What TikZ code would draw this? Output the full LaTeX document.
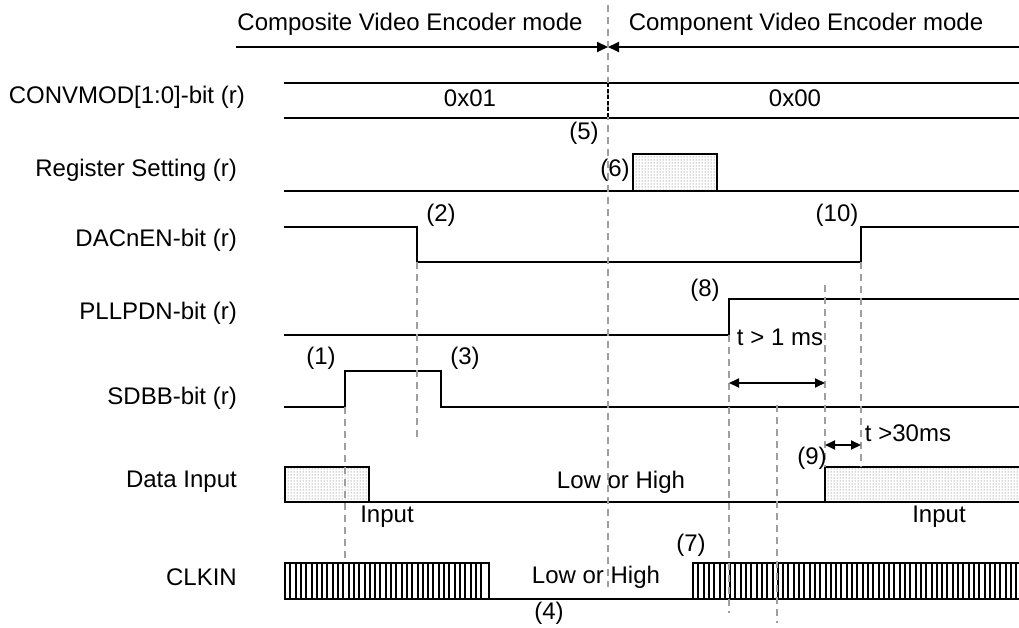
\documentclass[tikz,border=0pt]{standalone}
\usepackage{fontspec}
\setmainfont{Liberation Sans}
\usetikzlibrary{arrows.meta,patterns}
\begin{document}
\begin{tikzpicture}[x=1pt,y=-1pt,
  font=\fontsize{24}{28}\selectfont,
  sig/.style={line width=1.8pt},
  guide/.style={gray!75, line width=2.2pt, dash pattern=on 7pt off 5pt},
  lbl/.style={anchor=east, inner sep=0pt},
  txt/.style={inner sep=0pt},
  box/.style={draw, line width=2pt},
  dotfill/.style={pattern=dots, pattern color=black!65},
  stripe/.style={line width=2pt},
  tip/.style={-{Triangle[length=11pt,width=10pt]}},
  dim/.style={line width=1.8pt, {Triangle[length=10pt,width=9pt]}-{Triangle[length=10pt,width=9pt]}}]
\useasboundingbox (0,0) rectangle (1019,628);
\clip (0,0) rectangle (1019,628);

% mode header
\node[txt] (modeA) at (410,24) {Composite Video Encoder mode};
\node[txt] (modeB) at (806,24) {Component Video Encoder mode};
\coordinate (tl) at (236,47);
\coordinate (tm) at (608,47);
\coordinate (tr) at (1030,47);
\draw[sig,tip] (tl) -- (tm);
\draw[sig,tip] (tr) -- (tm);

% row labels
\node[lbl] (lConv) at (245,97) {CONVMOD[1:0]-bit (r)};
\node[lbl] (lReg) at (237,170) {Register Setting (r)};
\node[lbl] (lDac) at (237,240) {DACnEN-bit (r)};
\node[lbl] (lPll) at (237,313) {PLLPDN-bit (r)};
\node[lbl] (lSdb) at (237,398) {SDBB-bit (r)};
\node[lbl] (lDat) at (237,482) {Data Input};
\node[lbl] (lClk) at (237,577) {CLKIN};

% CONVMOD bus
\draw[sig] (284,83) -- (1030,83);
\draw[sig] (284,118) -- (1030,118);
\node[txt] (v01) at (470,98) {0x01};
\node[txt] (v00) at (795,98) {0x00};

% Register setting
\draw[sig] (284,191) -- (1030,191);
\draw[box,dotfill] (633,154) rectangle (717,191);

% DACnEN
\draw[sig] (284,227) -- (417,227) -- (417,262) -- (861,262) -- (861,227) -- (1030,227);
% PLLPDN
\draw[sig] (284,335) -- (729,335) -- (729,299) -- (1030,299);
% SDBB
\draw[sig] (284,407) -- (345,407) -- (345,371) -- (441,371) -- (441,407) -- (1030,407);

% Data input
\draw[box,dotfill] (285,467) rectangle (369,502);
\draw[sig] (369,502) -- (825,502);
\draw[box,dotfill] (825,467) rectangle (1030,502);

% CLKIN
\foreach \x in {290.3,295.6,...,486} \draw[stripe] (\x,563) -- (\x,599);
\draw[box] (285,563) rectangle (489,599);
\draw[sig] (489,599) -- (693,599);
\foreach \x in {698.3,703.6,...,1025} \draw[stripe] (\x,563) -- (\x,599);
\draw[box] (693,563) rectangle (1030,599);

% guides
\draw[guide] (608,5) -- (608,587);
\draw[line width=1.5pt, dash pattern=on 4pt off 2pt] (608,83) -- (608,118);
\draw[guide] (417,262) -- (417,437);
\draw[guide] (345,407) -- (345,562);
\draw[guide] (729,335) -- (729,613);
\draw[guide] (777,405) -- (777,623);
\draw[guide] (825,285) -- (825,467);
\draw[guide] (861,262) -- (861,467);

% timing arrows
\coordinate (a1) at (729,383);
\coordinate (b1) at (825,383);
\coordinate (a2) at (825,445);
\coordinate (b2) at (861,445);
\draw[dim] (a1) -- (b1);
\draw[dim] (a2) -- (b2);
\node[txt] (t1) at (780,337) {t > 1 ms};
\node[txt] (t2) at (908,433) {t >30ms};

% step labels
\node[txt] (n1) at (321,358) {(1)};
\node[txt] (n2) at (441,215) {(2)};
\node[txt] (n3) at (465,358) {(3)};
\node[txt] (n4) at (549,613) {(4)};
\node[txt] (n5) at (584,133) {(5)};
\node[txt] (n6) at (615,170) {(6)};
\node[txt] (n7) at (691,545) {(7)};
\node[txt] (n8) at (705,290) {(8)};
\node[txt] (n9) at (812,458) {(9)};
\node[txt] (n10) at (837,215) {(10)};

% other texts
\node[txt] (in1) at (387,517) {Input};
\node[txt] (in2) at (939,517) {Input};
\node[txt] (lh1) at (621,482) {Low or High};
\node[txt] (lh2) at (596,577) {Low or High};
\end{tikzpicture}
\end{document}
